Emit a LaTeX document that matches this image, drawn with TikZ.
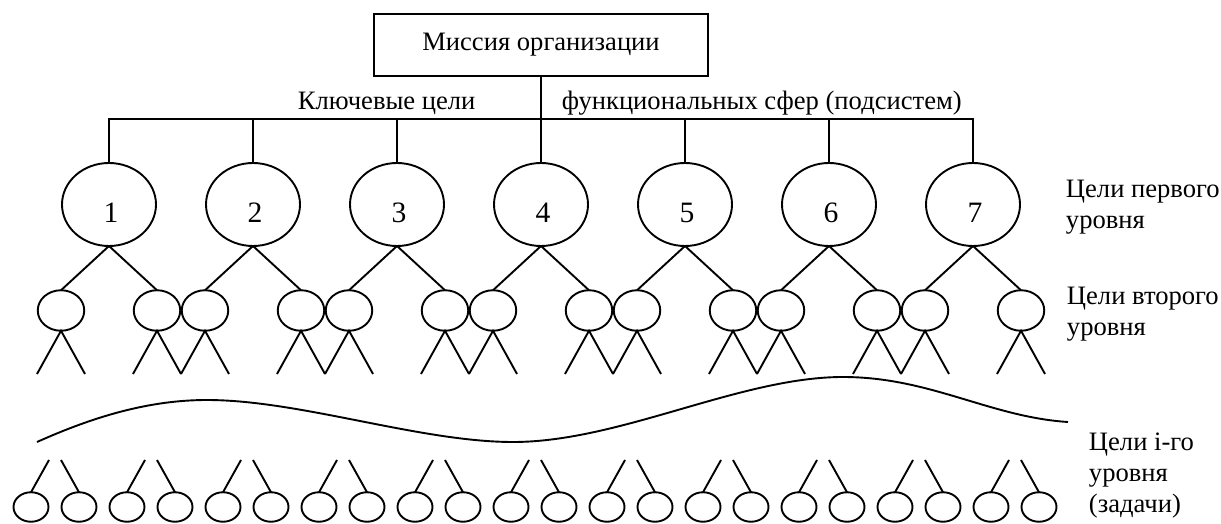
\documentclass[tikz,border=0pt]{standalone}
\usepackage{fontspec}
\setmainfont{LiberationSerif}[Extension=.ttf,UprightFont=*-Regular,BoldFont=*-Bold]
\newfontfamily\tnr{LiberationSerif}[Extension=.ttf,UprightFont=*-Regular]
\usetikzlibrary{shapes.geometric}
\begin{document}
\begin{tikzpicture}[x=1pt,y=-1pt,line width=1.9pt,
 big/.style={ellipse,draw,minimum width=94pt,minimum height=83pt,inner sep=0pt,outer sep=0pt},
 mid/.style={ellipse,draw,minimum width=46.5pt,minimum height=40.5pt,inner sep=0pt,outer sep=0pt},
 small/.style={ellipse,draw,minimum width=35pt,minimum height=29.5pt,inner sep=0pt,outer sep=0pt},
 txt/.style={font=\tnr\fontsize{26.6}{31}\selectfont,inner sep=0pt,align=left},
 num/.style={font=\tnr\fontsize{29.6}{34}\selectfont,inner sep=0pt,anchor=base}]
\useasboundingbox (0,0) rectangle (1221,524);
% mission box
\node[draw,minimum width=334pt,minimum height=62pt,inner sep=0pt,outer sep=0pt,txt] (mission) at (541,45) {Миссия организации};
% bus labels
\node[txt,anchor=base west] (key) at (297,110) {Ключевые цели};
\node[txt,anchor=base west] (func) at (561,110) {функциональных сфер (подсистем)};
% level 1 and level 2
\foreach \i in {1,...,7}{
  \pgfmathsetmacro\cx{109+144*(\i-1)}
  \node[big] (L\i) at (\cx,204.5) {};
  \node[num] (d\i) at (\cx+2,222) {\i};
  \coordinate (b\i) at (\cx,119);
  \node[mid] (M\i-a) at (\cx-48,310.5) {};
  \node[mid] (M\i-b) at (\cx+48,310.5) {};
  \draw (L\i.south) -- (M\i-a.north);
  \draw (L\i.south) -- (M\i-b.north);
  \coordinate (M\i-a-l) at (\cx-72,374);
  \coordinate (M\i-a-r) at (\cx-24,374);
  \coordinate (M\i-b-l) at (\cx+24,374);
  \coordinate (M\i-b-r) at (\cx+72,374);
  \draw (M\i-a-l) -- (M\i-a.south) -- (M\i-a-r);
  \draw (M\i-b-l) -- (M\i-b.south) -- (M\i-b-r);
}
\draw (mission.south) -- (L4.north);
\draw (L1.north) -- (b1) -- (b7) -- (L7.north);
\foreach \i in {2,3,5,6}{ \draw (b\i) -- (L\i.north); }
% wave
\draw (37,442) .. controls (95,416) and (150,400) .. (207,400)
  .. controls (300,400) and (420,442) .. (513,442)
  .. controls (620,442) and (740,377) .. (843,377)
  .. controls (930,377) and (990,417) .. (1068,422);
% bottom level
\foreach \k in {0,...,10}{
  \pgfmathsetmacro\pc{55+96*\k}
  \node[small] (S\k-a) at (\pc-24,507) {};
  \node[small] (S\k-b) at (\pc+24,507) {};
  \coordinate (T\k-a) at (\pc-6,460);
  \coordinate (T\k-b) at (\pc+6,460);
  \draw (T\k-a) -- (S\k-a.north);
  \draw (T\k-b) -- (S\k-b.north);
}
% right labels (base anchor = baseline of last line)
\node[txt,anchor=base west] (lab1) at (1065,228) {Цели первого\\уровня};
\node[txt,anchor=base west] (lab2) at (1066,335) {Цели второго\\уровня};
\node[txt,anchor=base west] (lab3) at (1088,512) {Цели i-го\\уровня\\(задачи)};
\end{tikzpicture}
\end{document}
